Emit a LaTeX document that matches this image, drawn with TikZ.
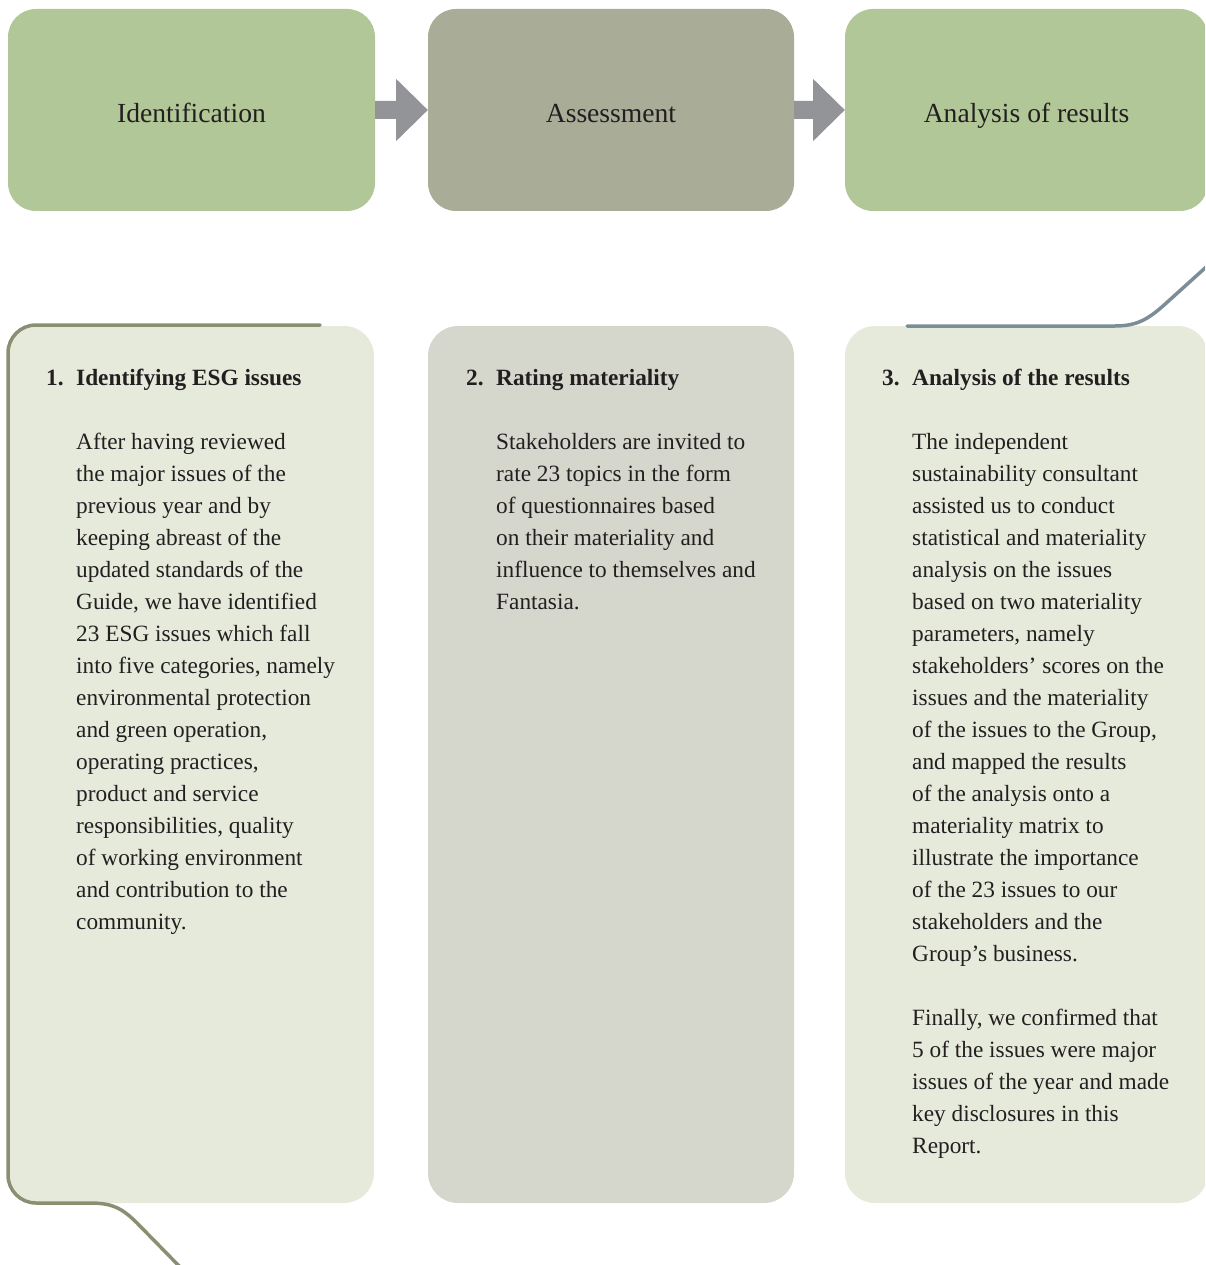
\documentclass[tikz,border=0pt]{standalone}
\usepackage{fontspec}
\setmainfont{Liberation Serif}
\usetikzlibrary{calc}

\definecolor{stagegreen}{HTML}{B2C797}
\definecolor{stagegray}{HTML}{A9AC97}
\definecolor{panelgreen}{HTML}{E6EADB}
\definecolor{panelgray}{HTML}{D5D6CC}
\definecolor{arrowgray}{HTML}{939498}
\definecolor{oliveline}{HTML}{8B8F72}
\definecolor{slateline}{HTML}{7B8D97}
\definecolor{ink}{HTML}{231F20}

\begin{document}
\begin{tikzpicture}[x=1pt,y=-1pt,
  stage/.style={rectangle, rounded corners=28pt, inner sep=0pt,
    minimum height=202pt, text=ink, text height=25pt, text depth=0pt,
    font=\fontsize{27.6}{32}\selectfont},
  panel/.style={rectangle, rounded corners=30pt, inner sep=0pt,
    minimum height=877pt},
  heading/.style={anchor=base west, inner sep=0pt, text=ink,
    font=\fontsize{23.3}{32}\selectfont\bfseries},
  body/.style={anchor=north west, inner sep=0pt, text=ink, align=left,
    font=\fontsize{23.3}{32}\selectfont},
  flow/.style={fill=arrowgray},
  trim/.style={line width=3.5pt, line cap=round, line join=round}]
\useasboundingbox (0,0) rectangle (1205,1265);
\clip (0,0) rectangle (1205,1265);

% stage boxes
\node[stage, fill=stagegreen, minimum width=367pt] (ident)    at (191.5,110) {Identification};
\node[stage, fill=stagegray,  minimum width=366pt] (assess)   at (611,110)   {Assessment};
\node[stage, fill=stagegreen, minimum width=363pt] (analysis) at (1026.5,110) {Analysis of results};

% block arrows between the stages
\fill[flow] ($(ident.east)+(0,-9)$) -- ($(ident.east)+(21,-9)$) -- ($(ident.east)+(21,-31)$)
  -- (assess.west) -- ($(ident.east)+(21,31)$) -- ($(ident.east)+(21,9)$) -- ($(ident.east)+(0,9)$) -- cycle;
\fill[flow] ($(assess.east)+(0,-9)$) -- ($(assess.east)+(19,-9)$) -- ($(assess.east)+(19,-31)$)
  -- (analysis.west) -- ($(assess.east)+(19,31)$) -- ($(assess.east)+(19,9)$) -- ($(assess.east)+(0,9)$) -- cycle;

% detail panels
\node[panel, fill=panelgreen, minimum width=366pt] (p1) at (191,764.5)    {};
\node[panel, fill=panelgray,  minimum width=366pt] (p2) at (611,764.5)    {};
\node[panel, fill=panelgreen, minimum width=363pt] (p3) at (1026.5,764.5) {};

% trim lines
\draw[trim, draw=oliveline]
  (320,325) -- (36,325) .. controls (20.5,325) and (8,337.5) .. (8,353)
  -- (8,1175) .. controls (8,1190.5) and (20.5,1203) .. (36,1203)
  -- (90,1203) .. controls (112,1203) and (122,1208) .. (137,1223) -- (184,1271);
\draw[trim, draw=slateline]
  (907,326) -- (1115,326) .. controls (1137,326) and (1148,319) .. (1163,306) -- (1215,259);

% panel 1
\node[heading] (h1) at (46,385) {\makebox[30pt][l]{1.}Identifying ESG issues};
\node[body] (t1) at (76,429) {\rule{0pt}{20pt}After having reviewed\\
the major issues of the\\
previous year and by\\
keeping abreast of the\\
updated standards of the\\
Guide, we have identified\\
23 ESG issues which fall\\
into five categories, namely\\
environmental protection\\
and green operation,\\
operating practices,\\
product and service\\
responsibilities, quality\\
of working environment\\
and contribution to the\\
community.};

% panel 2
\node[heading] (h2) at (466,385) {\makebox[30pt][l]{2.}Rating materiality};
\node[body] (t2) at (496,429) {\rule{0pt}{20pt}Stakeholders are invited to\\
rate 23 topics in the form\\
of questionnaires based\\
on their materiality and\\
influence to themselves and\\
Fantasia.};

% panel 3
\node[heading] (h3) at (882,385) {\makebox[30pt][l]{3.}Analysis of the results};
\node[body] (t3) at (912,429) {\rule{0pt}{20pt}The independent\\
sustainability consultant\\
assisted us to conduct\\
statistical and materiality\\
analysis on the issues\\
based on two materiality\\
parameters, namely\\
stakeholders’ scores on the\\
issues and the materiality\\
of the issues to the Group,\\
and mapped the results\\
of the analysis onto a\\
materiality matrix to\\
illustrate the importance\\
of the 23 issues to our\\
stakeholders and the\\
Group’s business.\\[32pt]
Finally, we confirmed that\\
5 of the issues were major\\
issues of the year and made\\
key disclosures in this\\
Report.};
\end{tikzpicture}
\end{document}
